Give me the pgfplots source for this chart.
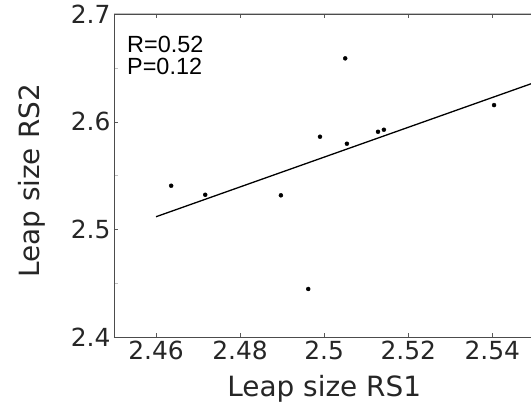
\documentclass[border=0pt]{standalone}
\usepackage{fontspec}
\setmainfont{DejaVu Sans}
\newfontfamily\arial{Liberation Sans}
\usepackage{pgfplots}
\pgfplotsset{compat=1.18}

\begin{document}
\begin{tikzpicture}
\begin{axis}[name=ax,scale only axis,width=420.4bp,height=323bp,
  xmin=2.45,xmax=2.55,ymin=2.4,ymax=2.7,
  xtick={2.46,2.48,2.5,2.52,2.54},xticklabels={2.46,2.48,2.5,2.52,2.54},
  ytick={2.4,2.5,2.6,2.7},yticklabels={2.4,2.5,2.6,2.7},
  minor ytick={2.45,2.55,2.65},ytick pos=left,
  tick align=inside,major tick length=4.5bp,minor tick length=4.5bp,
  major tick style={black!65},minor tick style={black!25},
  axis line style={black!70},
  /pgf/number format/assume math mode=true,
  tick label style={font=\fontsize{25}{30}\selectfont,text=black!85},
  label style={font=\fontsize{28}{34}\selectfont,text=black!85},
  xlabel={Leap size RS1},ylabel={Leap size RS2},
  xlabel style={at={(axis description cs:0.5,0)},anchor=center,yshift=-52bp},
  ylabel style={at={(axis description cs:0,0.483)},anchor=center,yshift=82bp},
  clip=false]
\addplot[only marks,mark=*,mark size=2bp,black] coordinates {
(2.4636,2.5405)(2.4717,2.5321)(2.4897,2.5316)(2.4962,2.4446)(2.4990,2.5860)
(2.5050,2.6588)(2.5054,2.5795)(2.5128,2.5906)(2.5142,2.5925)(2.5404,2.6154)};
\addplot[black,line width=1.3bp] coordinates {(2.46,2.5117)(2.55,2.6363)};
\draw[black!25,line width=1bp] (rel axis cs:0,1) -- (rel axis cs:1,1);
\node[anchor=north west,align=left,inner sep=0pt,font={\arial\fontsize{23.5}{22}\selectfont}]
  at ([xshift=13bp,yshift=-22bp]rel axis cs:0,1) {R=0.52\\P=0.12};
\end{axis}
\pgfresetboundingbox
\path[use as bounding box] ([xshift=-114bp,yshift=-66bp]ax.south west) rectangle ([xshift=417bp,yshift=14bp]ax.north west);
\end{tikzpicture}
\end{document}
